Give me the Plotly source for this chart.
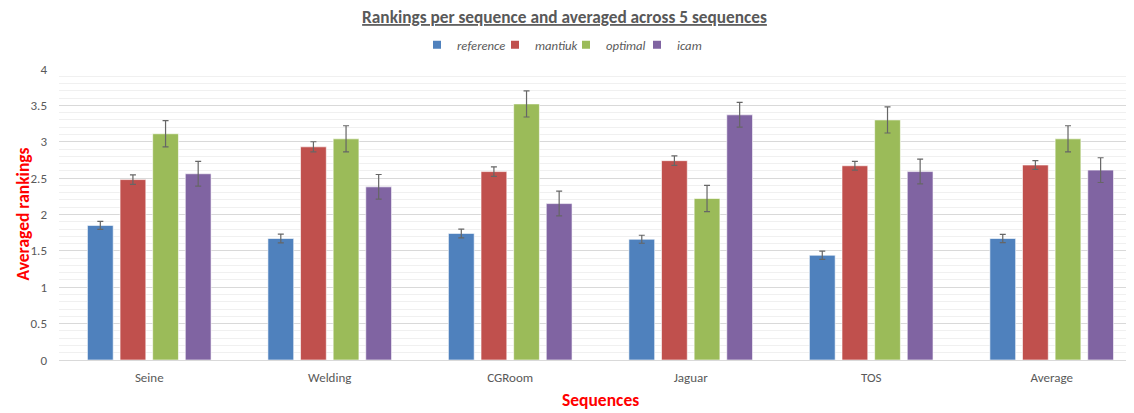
import plotly.graph_objects as go

categories = ["Seine", "Welding", "CGRoom", "Jaguar", "TOS", "Average"]
series_names = ["reference", "mantiuk", "optimal", "icam"]

reference = [1.85, 1.67, 1.74, 1.66, 1.44, 1.67]
mantiuk = [2.48, 2.93, 2.59, 2.74, 2.67, 2.68]
optimal = [3.11, 3.04, 3.52, 2.22, 3.30, 3.04]
icam = [2.56, 2.38, 2.15, 3.37, 2.59, 2.61]

reference_err = [0.055, 0.06, 0.06, 0.055, 0.057, 0.057]
mantiuk_err = [0.065, 0.07, 0.065, 0.065, 0.06, 0.06]
optimal_err = [0.18, 0.18, 0.18, 0.18, 0.18, 0.18]
icam_err = [0.17, 0.17, 0.17, 0.17, 0.17, 0.17]

colors = ["#4F81BD", "#C0504D", "#9BBB59", "#8064A2"]
values = [reference, mantiuk, optimal, icam]
errors = [reference_err, mantiuk_err, optimal_err, icam_err]

FONT = "Carlito, Lato, 'Open Sans', sans-serif"
GRAY = "#595959"

# page has an 8px body margin: figure spans page x 8..1134, y 8..413
W, H, OFF = 1126, 405, 8

def cx(px):
    return (px - OFF) / W

def cy(py):
    return 1 - (py - OFF) / H

fig = go.Figure()
for name, vals, errs, col in zip(series_names, values, errors, colors):
    fig.add_trace(go.Bar(
        name=name, x=categories, y=vals, showlegend=False, legendgroup=name,
        marker=dict(color=col, line=dict(color="rgba(255,255,255,0.6)", width=1)),
        error_y=dict(type="data", array=errs, visible=True, color="#666666",
                     thickness=1.2, width=3),
    ))

legend_ids = ["legend", "legend2", "legend3", "legend4"]
legend_left = [417, 495, 566, 637]  # page x of each legend box
for name, col, lid in zip(series_names, colors, legend_ids):
    fig.add_trace(go.Scatter(
        name=name, x=[None], y=[None], mode="markers", legendgroup=name,
        legend=lid, marker=dict(symbol="square", size=8, color=col),
    ))

legend_style = dict(orientation="h", xanchor="left", xref="container",
                    y=cy(45), yanchor="middle", yref="container",
                    font=dict(family=FONT, size=12.7, color=GRAY, style="italic"),
                    itemwidth=30, bgcolor="rgba(0,0,0,0)", borderwidth=0)

fig.update_layout(
    template="none",
    width=W, height=H,
    paper_bgcolor="white", plot_bgcolor="white",
    barmode="group", bargap=0.277, bargroupgap=0.21,
    margin=dict(l=59 - OFF, r=0, t=69 - OFF, b=53, autoexpand=False),
    font=dict(family=FONT, color=GRAY, size=12),
    title=dict(text="<b><u>Rankings per sequence and averaged across 5 sequences</u></b>",
               x=cx(564.5), xanchor="center", xref="container",
               y=cy(17), yanchor="middle", yref="container",
               font=dict(family=FONT, size=17.3, color=GRAY)),
    legend=dict(x=cx(legend_left[0]), **legend_style),
    legend2=dict(x=cx(legend_left[1]), **legend_style),
    legend3=dict(x=cx(legend_left[2]), **legend_style),
    legend4=dict(x=cx(legend_left[3]), **legend_style),
    xaxis=dict(range=[-0.5, 5.456], showgrid=False, showline=True,
               linecolor="#D9D9D9", linewidth=1, ticks="", automargin=False,
               ticklabelstandoff=5,
               tickfont=dict(family=FONT, size=13, color=GRAY)),
    yaxis=dict(range=[0, 4], dtick=0.5, showgrid=True, gridcolor="#D9D9D9",
               gridwidth=1, zeroline=False, ticks="", automargin=False,
               showline=False, ticklabelstandoff=11,
               tickfont=dict(family=FONT, size=13, color=GRAY),
               minor=dict(dtick=0.1, showgrid=True, gridcolor="#F0F0F0", gridwidth=1)),
)

fig.add_annotation(text="<b>Averaged rankings</b>", xref="paper", x=0, xshift=-37,
                   yref="paper", y=0.5, textangle=-90, showarrow=False,
                   xanchor="center", yanchor="middle",
                   font=dict(family=FONT, size=17.5, color="#FF0000"))
fig.add_annotation(text="<b>Sequences</b>", xref="x", x=2.5, yref="paper", y=0,
                   yshift=-40, yanchor="middle", showarrow=False,
                   font=dict(family=FONT, size=17.5, color="#FF0000"))

fig.write_html("out.html")
